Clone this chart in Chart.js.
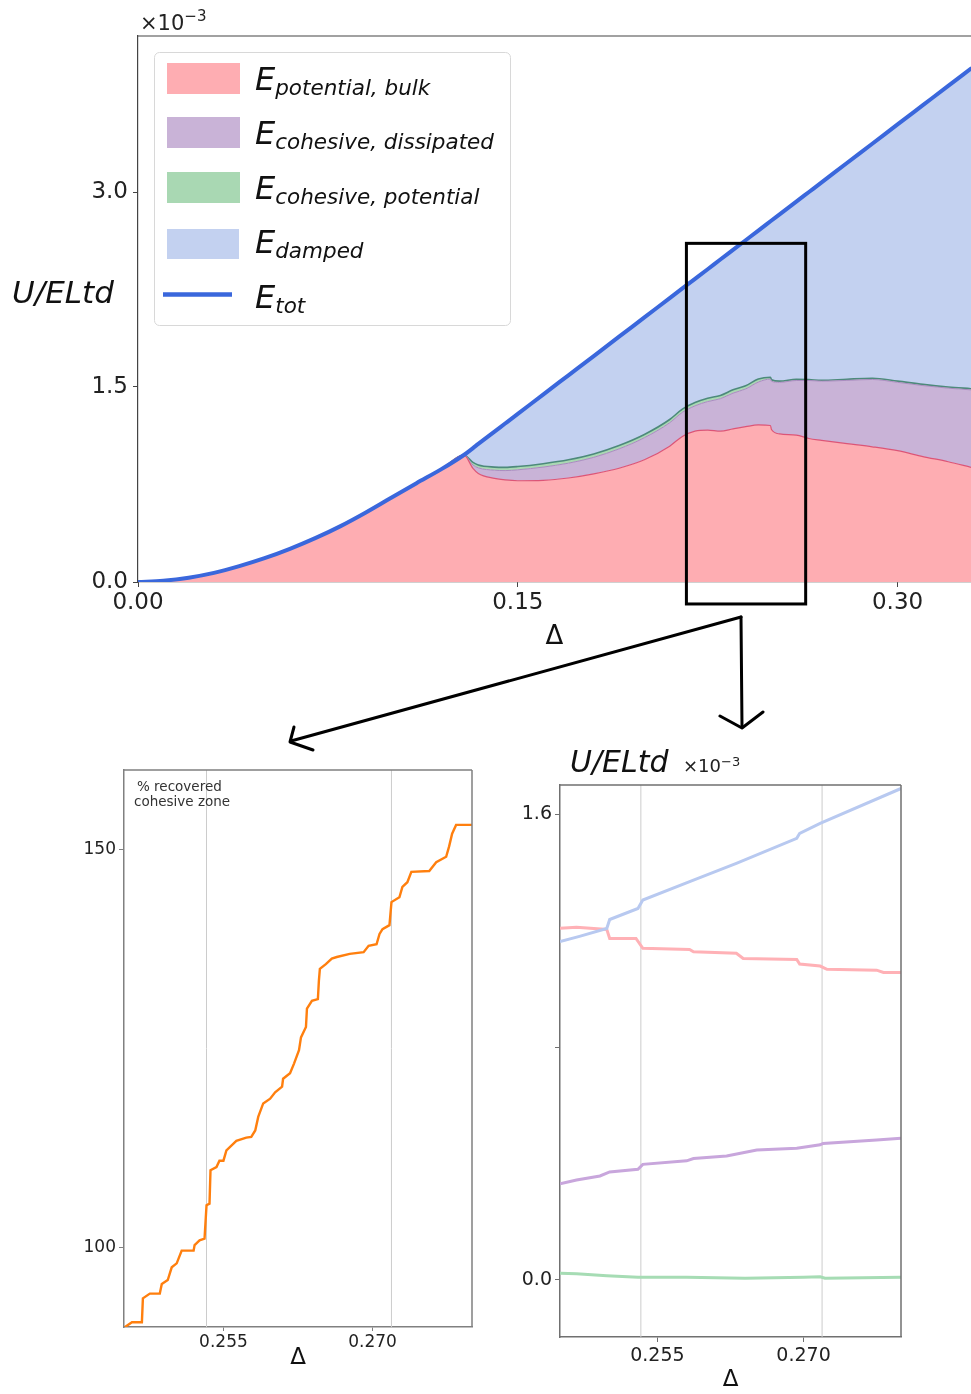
<!DOCTYPE html>
<html>
<head>
<meta charset="utf-8">
<script src="https://cdn.jsdelivr.net/npm/chart.js@4.4.1/dist/chart.umd.min.js"></script>
<style>
  html, body { margin: 0; padding: 0; background: #fff; }
  #page { position: relative; width: 971px; height: 1394px; overflow: hidden; font-family: 'DejaVu Sans', sans-serif; }
  #page canvas { position: absolute; }
  #overlay { position: absolute; left: 0; top: 0; pointer-events: none; }
</style>
</head>
<body>
<div id="page">
  <canvas id="energy" width="971" height="660" style="left:0;top:0;width:971px;height:660px"></canvas>
  <canvas id="recovered" width="430" height="654" style="left:60px;top:740px;width:430px;height:654px"></canvas>
  <canvas id="zoomEnergy" width="420" height="654" style="left:500px;top:740px;width:420px;height:654px"></canvas>

  <svg id="overlay" width="971" height="1394" xmlns="http://www.w3.org/2000/svg" font-family="DejaVu Sans, sans-serif">
    <!-- exponent of the main energy axis -->
    <text x="140" y="30" font-size="21" fill="#222">×10<tspan font-size="15" dy="-9">−3</tspan></text>
    <!-- main y-axis label -->
    <text x="12" y="303" font-size="31" font-style="italic" fill="#111">U/ELtd</text>

    <!-- legend -->
    <rect x="154.5" y="52.5" width="356" height="273" rx="5" ry="5" fill="#fff" fill-opacity="0.85" stroke="#d8d8d8" stroke-width="1"/>
    <rect x="167" y="63" width="73" height="31" fill="#feadb2"/>
    <rect x="167" y="117" width="73" height="31" fill="#c9b3d7"/>
    <rect x="167" y="172" width="73" height="31" fill="#a9d8b3"/>
    <rect x="167" y="229" width="72" height="30" fill="#c3d1f0"/>
    <line x1="163" y1="294.5" x2="232" y2="294.5" stroke="#3a67dc" stroke-width="4.5"/>
    <g font-style="italic" fill="#111">
      <text x="255" y="90" font-size="32">E<tspan font-size="21.5" dy="5">potential, bulk</tspan></text>
      <text x="255" y="144" font-size="32">E<tspan font-size="21.5" dy="5">cohesive, dissipated</tspan></text>
      <text x="255" y="199" font-size="32">E<tspan font-size="21.5" dy="5">cohesive, potential</tspan></text>
      <text x="255" y="253" font-size="32">E<tspan font-size="21.5" dy="5">damped</tspan></text>
      <text x="255" y="308" font-size="32">E<tspan font-size="21.5" dy="5">tot</tspan></text>
    </g>

    <!-- arrows from the zoom window to the two detail panels -->
    <g stroke="#000" stroke-width="3" fill="none" stroke-linecap="round" stroke-linejoin="round">
      <line x1="741" y1="617" x2="291" y2="741"/>
      <polyline points="294,727 290,742 313,750"/>
      <line x1="741" y1="617" x2="742" y2="727"/>
      <polyline points="720,716 742,728 763,712"/>
    </g>

    <!-- detail panel annotations -->
    <text x="137" y="791" font-size="13.5" fill="#333">% recovered</text>
    <text x="134" y="806" font-size="13.5" fill="#333">cohesive zone</text>
    <text x="570" y="772" font-size="30" font-style="italic" fill="#111">U/ELtd</text>
    <text x="683" y="772" font-size="18" fill="#222">×10<tspan font-size="13" dy="-6">−3</tspan></text>
  </svg>
</div>

<script>
// ---------- energy budget (U/ELtd, in units of 1e-3) against imposed displacement Δ ----------
const mainDelta = [0, 0.01, 0.02, 0.03, 0.04, 0.05, 0.06, 0.07, 0.08, 0.09, 0.10, 0.11, 0.12, 0.1287,
  0.1323, 0.1344, 0.1408, 0.145, 0.15, 0.16, 0.17, 0.18, 0.19, 0.20, 0.21, 0.215, 0.22, 0.225, 0.23,
  0.235, 0.24, 0.245, 0.2498, 0.2502, 0.2534, 0.26, 0.265, 0.27, 0.28, 0.29, 0.30, 0.31, 0.32, 0.329];

const eTotal = [0, 0.010, 0.033, 0.070, 0.122, 0.183, 0.255, 0.337, 0.430, 0.535, 0.648, 0.760, 0.870, 0.977,
  1.030, 1.062, 1.157, 1.219, 1.293, 1.442, 1.590, 1.738, 1.887, 2.035, 2.184, 2.258, 2.332, 2.406, 2.481,
  2.555, 2.629, 2.703, 2.775, 2.781, 2.828, 2.926, 3.000, 3.074, 3.223, 3.371, 3.520, 3.668, 3.816, 3.950];

const ePotentialBulk = [0, 0.010, 0.033, 0.070, 0.122, 0.183, 0.255, 0.337, 0.430, 0.535, 0.648, 0.760, 0.870, 0.977,
  0.874, 0.835, 0.797, 0.785, 0.779, 0.782, 0.800, 0.832, 0.875, 0.940, 1.045, 1.120, 1.160, 1.168, 1.160,
  1.178, 1.195, 1.208, 1.204, 1.173, 1.139, 1.130, 1.104, 1.090, 1.064, 1.040, 1.010, 0.965, 0.925, 0.882];

const eCohesiveDissipated = [0, 0, 0, 0, 0, 0, 0, 0, 0, 0, 0, 0, 0, 0,
  0.026, 0.043, 0.063, 0.072, 0.084, 0.102, 0.114, 0.127, 0.149, 0.170, 0.180, 0.185, 0.195, 0.220, 0.250,
  0.275, 0.290, 0.330, 0.357, 0.371, 0.397, 0.420, 0.446, 0.455, 0.487, 0.518, 0.526, 0.546, 0.566, 0.596];

const eCohesivePotential = [0, 0, 0, 0, 0, 0, 0, 0, 0, 0, 0, 0, 0, 0,
  0.020, 0.022, 0.024, 0.025, 0.025, 0.026, 0.026, 0.026, 0.026, 0.025, 0.025, 0.025, 0.025, 0.025, 0.025,
  0.025, 0.024, 0.023, 0.014, 0.012, 0.009, 0.009, 0.007, 0.006, 0.009, 0.009, 0.009, 0.009, 0.009, 0.009];

const eDamped = [0, 0, 0, 0, 0, 0, 0, 0, 0, 0, 0, 0, 0, 0,
  0.110, 0.162, 0.273, 0.337, 0.405, 0.532, 0.650, 0.753, 0.837, 0.900, 0.934, 0.928, 0.952, 0.993, 1.046,
  1.077, 1.120, 1.142, 1.200, 1.225, 1.283, 1.367, 1.443, 1.523, 1.663, 1.804, 1.975, 2.148, 2.316, 2.463];

const mainXTicks = [0, 0.15, 0.30];
const mainYTicks = [0, 1.5, 3.0];
// Δ from, Δ to, energy from, energy to — window enlarged in the detail panels
const zoomWindow = [0.2166, 0.2637, -0.169, 2.605];

// ---------- detail: % recovered cohesive zone ----------
const recDelta = [0.2451, 0.2458, 0.2468, 0.2469, 0.2476, 0.2486, 0.2488, 0.2494, 0.2498, 0.2503, 0.2508,
  0.2520, 0.2521, 0.2526, 0.2531, 0.2533, 0.2536, 0.2537, 0.2543, 0.2546, 0.2550, 0.2553, 0.2563, 0.2573,
  0.2578, 0.2582, 0.2585, 0.2590, 0.2597, 0.2602, 0.2609, 0.2610, 0.2617, 0.2621, 0.2626, 0.2628, 0.2633,
  0.2634, 0.2639, 0.2645, 0.2646, 0.2647, 0.2653, 0.2659, 0.2664, 0.2677, 0.2691, 0.2696, 0.2704, 0.2707,
  0.2710, 0.2717, 0.2719, 0.2727, 0.2730, 0.2735, 0.2739, 0.2757, 0.2764, 0.2774, 0.2777, 0.2780, 0.2784, 0.2800];
const recPercent = [90.0, 90.6, 90.6, 93.6, 94.2, 94.2, 95.4, 95.9, 97.5, 98.0, 99.6,
  99.6, 100.3, 100.9, 101.1, 105.3, 105.5, 109.7, 110.1, 110.9, 110.9, 112.2, 113.4, 113.8,
  113.9, 114.7, 116.4, 118.1, 118.7, 119.5, 120.2, 121.2, 121.9, 123.1, 124.8, 126.4, 127.7,
  130.0, 131.0, 131.2, 133.5, 135.0, 135.6, 136.3, 136.5, 136.9, 137.1, 137.9, 138.1, 139.4,
  140.0, 140.5, 143.4, 144.0, 145.3, 145.9, 147.2, 147.3, 148.4, 149.1, 150.4, 152.0, 153.1, 153.1];
const recXTicks = [0.255, 0.270];
const recYTicks = [100, 150];
const recYRange = [90, 160];

// ---------- detail: energy components in the window ----------
const detDampedX = [0.2450, 0.2470, 0.2498, 0.2501, 0.2530, 0.2535, 0.2587, 0.2631, 0.2693, 0.2696, 0.2717, 0.2800];
const detDampedY = [1.162, 1.180, 1.207, 1.238, 1.276, 1.305, 1.373, 1.431, 1.517, 1.534, 1.568, 1.688];
const detBulkX = [0.2450, 0.2467, 0.2498, 0.2501, 0.2528, 0.2535, 0.2583, 0.2587, 0.2631, 0.2638, 0.2693,
  0.2696, 0.2717, 0.2724, 0.2775, 0.2782, 0.2800];
const detBulkY = [1.208, 1.211, 1.204, 1.173, 1.173, 1.139, 1.135, 1.127, 1.122, 1.104, 1.101,
  1.085, 1.078, 1.067, 1.064, 1.056, 1.056];
const detDissX = [0.2450, 0.2467, 0.2491, 0.2501, 0.2530, 0.2535, 0.2580, 0.2587, 0.2621, 0.2652, 0.2693,
  0.2717, 0.2720, 0.2775, 0.2800];
const detDissY = [0.330, 0.343, 0.357, 0.371, 0.380, 0.397, 0.409, 0.417, 0.426, 0.446, 0.452,
  0.464, 0.469, 0.481, 0.487];
const detCohX = [0.2450, 0.2467, 0.2498, 0.2530, 0.2580, 0.2640, 0.2700, 0.2717, 0.2722, 0.2800];
const detCohY = [0.023, 0.021, 0.014, 0.009, 0.009, 0.006, 0.009, 0.011, 0.006, 0.009];
const detXTicks = [0.255, 0.270];
const detYTicks = [0, 0.8, 1.6];
const detYRange = [-0.196, 1.70];

// reference lines shared by both detail panels
const detailMarks = [0.2533, 0.2719];
const detailXRange = [0.245, 0.280];

// ---------- helpers ----------
Chart.defaults.font.family = "'DejaVu Sans', sans-serif";
Chart.defaults.color = '#222';
Chart.defaults.animation = false;
Chart.defaults.responsive = false;
Chart.defaults.elements.point.radius = 0;
Chart.defaults.elements.line.tension = 0;
Chart.defaults.plugins.legend.display = false;
Chart.defaults.plugins.tooltip.enabled = false;

const pts = (xs, ys) => xs.map((x, i) => ({ x, y: ys[i] }));
const fixedTicks = list => scale => { scale.ticks = list.map(v => ({ value: v })); };

// extra spines that the scales do not draw
const frame = {
  id: 'frame',
  afterDatasetsDraw(chart, args, o) {
    const { ctx, chartArea: a } = chart;
    ctx.save();
    ctx.strokeStyle = o.color;
    ctx.lineWidth = o.width;
    ctx.beginPath();
    if (o.sides.includes('top')) { ctx.moveTo(a.left, a.top); ctx.lineTo(a.right, a.top); }
    if (o.sides.includes('right')) { ctx.moveTo(a.right, a.top); ctx.lineTo(a.right, a.bottom); }
    ctx.stroke();
    ctx.restore();
  }
};

// outline of the enlarged Δ window
const windowBox = {
  id: 'windowBox',
  afterDraw(chart) {
    const { ctx, scales: { x, y } } = chart;
    const [x0, x1, y0, y1] = zoomWindow;
    const l = x.getPixelForValue(x0), r = x.getPixelForValue(x1);
    const t = y.getPixelForValue(y1), b = y.getPixelForValue(y0);
    ctx.save();
    ctx.strokeStyle = '#000';
    ctx.lineWidth = 3;
    ctx.strokeRect(l, t, r - l, b - t);
    ctx.restore();
  }
};

// ---------- main stacked energy chart ----------
const smooth = { cubicInterpolationMode: 'monotone' };
new Chart(document.getElementById('energy'), {
  type: 'line',
  data: {
    datasets: [
      { label: 'E potential, bulk', data: pts(mainDelta, ePotentialBulk), fill: 'origin', ...smooth,
        backgroundColor: '#feadb2', borderColor: '#dc5577', borderWidth: 1.2 },
      { label: 'E cohesive, dissipated', data: pts(mainDelta, eCohesiveDissipated), fill: '-1', ...smooth,
        backgroundColor: '#c9b3d7', borderColor: '#a98bbf', borderWidth: 1 },
      { label: 'E cohesive, potential', data: pts(mainDelta, eCohesivePotential), fill: '-1', ...smooth,
        backgroundColor: '#a9d8b3', borderColor: '#4d8a7b', borderWidth: 1.6 },
      { label: 'E damped', data: pts(mainDelta, eDamped), fill: '-1', ...smooth,
        backgroundColor: '#c3d1f0', borderColor: 'rgba(0,0,0,0)', borderWidth: 0 },
      { label: 'E tot', data: pts(mainDelta, eTotal), fill: false, stack: 'total', order: -1, ...smooth,
        borderColor: '#3a67dc', borderWidth: 4, borderCapStyle: 'round' }
    ]
  },
  options: {
    layout: { padding: { top: 36, right: 0, left: 0, bottom: 0 } },
    scales: {
      x: {
        type: 'linear', min: 0, max: 0.329,
        afterBuildTicks: fixedTicks(mainXTicks),
        afterFit(s) { s.height = 78; },
        grid: { drawOnChartArea: false, tickLength: 5, tickColor: '#444' },
        border: { color: '#444', width: 1.2 },
        ticks: { autoSkip: false, maxRotation: 0, padding: 2, color: '#222',
          font: { size: 23 }, callback: v => v.toFixed(2) },
        title: { display: true, text: 'Δ', color: '#111', font: { size: 26 },
          padding: { top: 0, bottom: 7 } }
      },
      y: {
        type: 'linear', min: 0, max: 4.2, stacked: true,
        afterBuildTicks: fixedTicks(mainYTicks),
        afterFit(s) { s.width = 138; },
        grid: { drawOnChartArea: false, tickLength: 5, tickColor: '#444' },
        border: { color: '#444', width: 1.2 },
        ticks: { padding: 5, color: '#222', font: { size: 23 }, callback: v => v.toFixed(1) }
      }
    },
    plugins: { frame: { sides: ['top'], color: '#444', width: 1.2 } }
  },
  plugins: [frame, windowBox]
});

// ---------- detail: % recovered cohesive zone ----------
new Chart(document.getElementById('recovered'), {
  type: 'line',
  data: {
    datasets: [
      { data: pts(recDelta, recPercent), borderColor: '#ff7f0e', borderWidth: 2.4, order: 0 },
      ...detailMarks.map(m => ({ data: [{ x: m, y: recYRange[0] }, { x: m, y: recYRange[1] }],
        borderColor: '#cccccc', borderWidth: 1, order: 1 }))
    ]
  },
  options: {
    layout: { padding: { top: 30, right: 18, left: 0, bottom: 0 } },
    scales: {
      x: {
        type: 'linear', min: detailXRange[0], max: detailXRange[1],
        afterBuildTicks: fixedTicks(recXTicks),
        afterFit(s) { s.height = 67; },
        grid: { drawOnChartArea: false, tickLength: 4, tickColor: '#808080' },
        border: { color: '#808080', width: 1.5 },
        ticks: { autoSkip: false, maxRotation: 0, padding: 1, color: '#222',
          font: { size: 17 }, callback: v => v.toFixed(3) },
        title: { display: true, text: 'Δ', color: '#111', font: { size: 23 },
          padding: { top: 0, bottom: 22 } }
      },
      y: {
        type: 'linear', min: recYRange[0], max: recYRange[1],
        afterBuildTicks: fixedTicks(recYTicks),
        afterFit(s) { s.width = 64; },
        grid: { drawOnChartArea: false, tickLength: 5, tickColor: '#808080' },
        border: { color: '#808080', width: 1.5 },
        ticks: { padding: 3, color: '#222', font: { size: 17 }, callback: v => String(v) }
      }
    },
    plugins: { frame: { sides: ['top', 'right'], color: '#808080', width: 1.5 } }
  },
  plugins: [frame]
});

// ---------- detail: energy components ----------
new Chart(document.getElementById('zoomEnergy'), {
  type: 'line',
  data: {
    datasets: [
      { data: pts(detDampedX, detDampedY), borderColor: '#b8c9f0', borderWidth: 3, order: 0 },
      { data: pts(detBulkX, detBulkY), borderColor: '#ffb1b6', borderWidth: 3, order: 0 },
      { data: pts(detDissX, detDissY), borderColor: '#c8a6dc', borderWidth: 3, order: 0 },
      { data: pts(detCohX, detCohY), borderColor: '#a6dcb4', borderWidth: 3, order: 0 },
      ...detailMarks.map(m => ({ data: [{ x: m, y: detYRange[0] }, { x: m, y: detYRange[1] }],
        borderColor: '#cccccc', borderWidth: 1, order: 1 }))
    ]
  },
  options: {
    layout: { padding: { top: 45, right: 19, left: 0, bottom: 0 } },
    scales: {
      x: {
        type: 'linear', min: detailXRange[0], max: detailXRange[1],
        afterBuildTicks: fixedTicks(detXTicks),
        afterFit(s) { s.height = 57; },
        grid: { drawOnChartArea: false, tickLength: 5, tickColor: '#707070' },
        border: { color: '#707070', width: 1.5 },
        ticks: { autoSkip: false, maxRotation: 0, padding: 3, color: '#222',
          font: { size: 19 }, callback: v => v.toFixed(3) },
        title: { display: true, text: 'Δ', color: '#111', font: { size: 23 },
          padding: { top: 0, bottom: 0 } }
      },
      y: {
        type: 'linear', min: detYRange[0], max: detYRange[1],
        afterBuildTicks: fixedTicks(detYTicks),
        afterFit(s) { s.width = 60; },
        grid: { drawOnChartArea: false, tickLength: 5, tickColor: '#707070' },
        border: { color: '#707070', width: 1.5 },
        ticks: { padding: 3, color: '#222', font: { size: 19 },
          callback: v => (v === 0.8 ? '' : v.toFixed(1)) }
      }
    },
    plugins: { frame: { sides: ['top', 'right'], color: '#707070', width: 1.5 } }
  },
  plugins: [frame]
});
</script>
</body>
</html>
